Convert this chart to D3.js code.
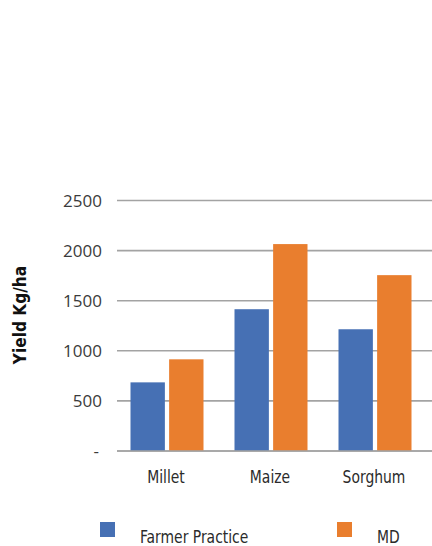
<!DOCTYPE html>
<html>
<head>
<meta charset="utf-8">
<script src="https://cdn.jsdelivr.net/npm/d3@7"></script>
<style>
  html, body { margin: 0; padding: 0; background: #fff; }
  svg { display: block; }
  .tick-label { font-family: "Open Sans", "Liberation Sans", sans-serif; font-size: 17px; fill: #3b3b3b; }
  .cond { font-family: "DejaVu Sans", sans-serif; font-stretch: condensed; fill: #2b2b2b; }
</style>
</head>
<body>
<svg id="chart" width="432" height="546"></svg>
<script>
// Yield per crop under each practice
const categories = ["Millet", "Maize", "Sorghum"];
const seriesNames = ["Farmer Practice", "MD"];
const farmerPractice = [685, 1415, 1215];
const md = [915, 2065, 1755];
const yTicks = [0, 500, 1000, 1500, 2000, 2500];
const yTickLabels = ["-", "500", "1000", "1500", "2000", "2500"];
const colors = ["#4670B4", "#E97E2E"];

const svg = d3.select("#chart");
const W = 432;
const narrow = 0.86; // horizontal squeeze for the condensed labels

const x = d3.scaleBand().domain(categories).range([115, 427]);
const xSub = d3.scaleBand().domain(seriesNames).range([15.5, 88.5]).paddingInner(0.11);
const y = d3.scaleLinear().domain([0, 2500]).range([451, 200.5]);

// Gridlines
svg.append("g")
  .selectAll("line")
  .data(yTicks)
  .join("line")
  .attr("x1", 117).attr("x2", W)
  .attr("y1", d => y(d)).attr("y2", d => y(d))
  .attr("stroke", "#a3a3a3")
  .attr("stroke-width", 1.6);

// Y tick labels
svg.append("g")
  .selectAll("text")
  .data(yTicks)
  .join("text")
  .attr("class", "tick-label")
  .attr("x", (d, i) => i === 0 ? 99 : 102)
  .attr("y", d => y(d))
  .attr("dy", "0.36em")
  .attr("text-anchor", "end")
  .text((d, i) => yTickLabels[i]);

// Bars
const rows = categories.map((c, i) => ({ cat: c, values: [farmerPractice[i], md[i]] }));
const groups = svg.append("g")
  .selectAll("g")
  .data(rows)
  .join("g")
  .attr("transform", d => `translate(${x(d.cat)},0)`);

groups.selectAll("rect")
  .data(d => d.values.map((v, j) => ({ name: seriesNames[j], value: v, j })))
  .join("rect")
  .attr("x", d => xSub(d.name))
  .attr("width", xSub.bandwidth())
  .attr("y", d => y(d.value))
  .attr("height", d => y(0) - y(d.value))
  .attr("fill", d => colors[d.j]);

// Baseline drawn over the bar bottoms
svg.append("line")
  .attr("x1", 117).attr("x2", W)
  .attr("y1", y(0)).attr("y2", y(0))
  .attr("stroke", "#a3a3a3")
  .attr("stroke-width", 1.6);

// Category labels
svg.append("g")
  .selectAll("text")
  .data(categories)
  .join("text")
  .attr("class", "cond")
  .attr("transform", d => `translate(${x(d) + x.bandwidth() / 2 - 1},483) scale(${narrow},1)`)
  .attr("text-anchor", "middle")
  .style("font-size", "18px")
  .text(d => d);

// Y axis title
svg.append("text")
  .attr("class", "cond")
  .attr("transform", "translate(26,315) rotate(-90) scale(0.95,1)")
  .attr("text-anchor", "middle")
  .style("font-size", "18px")
  .style("font-weight", "bold")
  .style("fill", "#111")
  .text("Yield Kg/ha");

// Legend
const legendPos = [{ sx: 100, tx: 140 }, { sx: 337, tx: 377 }];
const legend = svg.append("g")
  .selectAll("g")
  .data(seriesNames)
  .join("g");
legend.append("rect")
  .attr("x", (d, i) => legendPos[i].sx)
  .attr("y", 522)
  .attr("width", 15).attr("height", 15)
  .attr("fill", (d, i) => colors[i]);
legend.append("text")
  .attr("class", "cond")
  .attr("transform", (d, i) => `translate(${legendPos[i].tx},543) scale(${narrow},1)`)
  .style("font-size", "18px")
  .text(d => d);
</script>
</body>
</html>
